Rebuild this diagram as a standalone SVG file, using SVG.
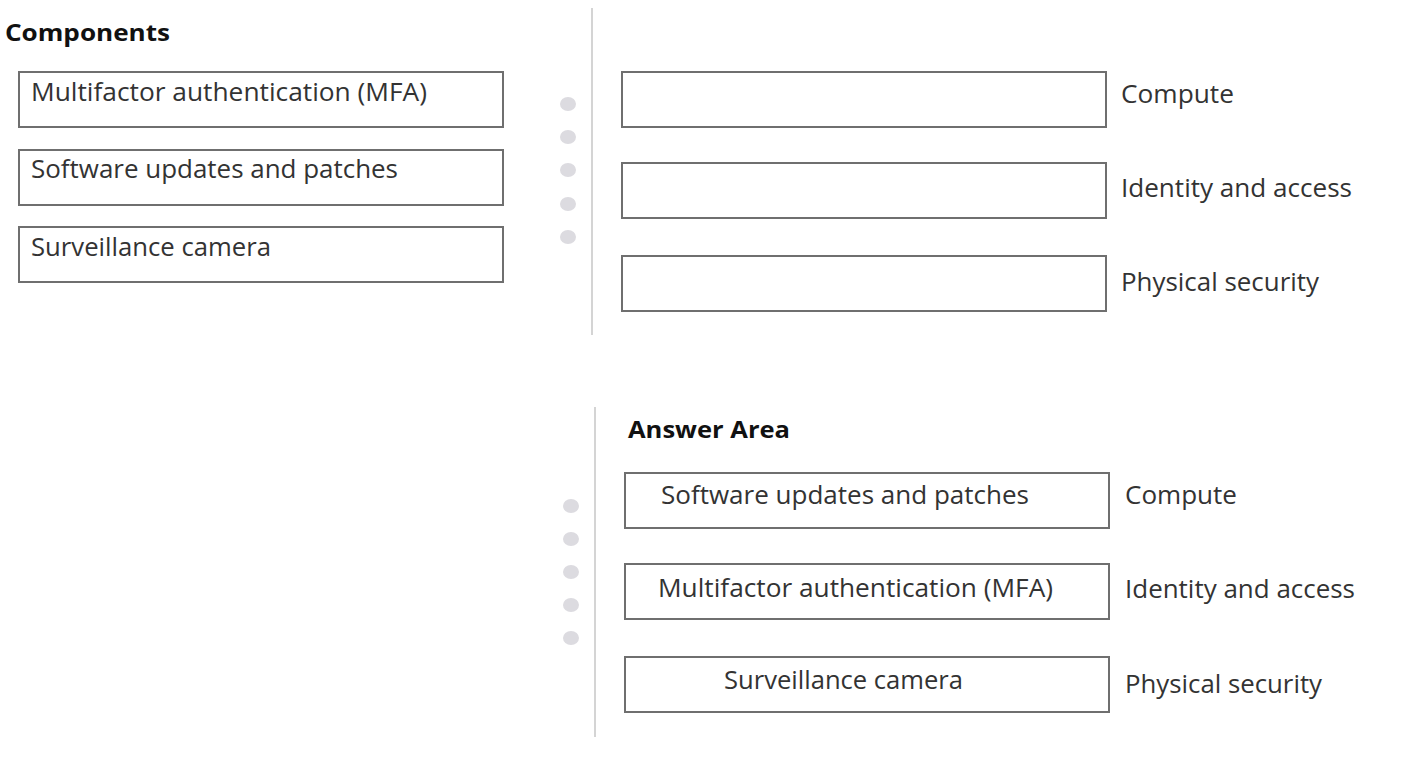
<svg xmlns="http://www.w3.org/2000/svg" width="1404" height="758" viewBox="0 0 1404 758">
<style>
.bg{fill:#ffffff}
.box{fill:#ffffff;stroke:#6f6f6f;stroke-width:2}
.t{font-family:"Open Sans","Noto Sans","Liberation Sans",sans-serif;font-size:25px;fill:#333333}
.h{font-family:"Open Sans","Noto Sans","Liberation Sans",sans-serif;font-size:24px;font-weight:bold;fill:#111111}
.sep{stroke:#d4d4d4;stroke-width:2}
.dot{fill:#dcdbe0}
</style>
<rect class="bg" x="0" y="0" width="1404" height="758"/>
<g id="separators">
<line class="sep" x1="592" y1="8" x2="592" y2="335"/>
<line class="sep" x1="595" y1="407" x2="595" y2="737"/>
</g>
<g id="dots-top">
<ellipse class="dot" cx="568" cy="104" rx="8" ry="7"/>
<ellipse class="dot" cx="568" cy="137" rx="8" ry="7"/>
<ellipse class="dot" cx="568" cy="170" rx="8" ry="7"/>
<ellipse class="dot" cx="568" cy="204" rx="8" ry="7"/>
<ellipse class="dot" cx="568" cy="237" rx="8" ry="7"/>
</g>
<g id="dots-bottom">
<ellipse class="dot" cx="571" cy="506" rx="8" ry="7"/>
<ellipse class="dot" cx="571" cy="539" rx="8" ry="7"/>
<ellipse class="dot" cx="571" cy="572" rx="8" ry="7"/>
<ellipse class="dot" cx="571" cy="605" rx="8" ry="7"/>
<ellipse class="dot" cx="571" cy="638" rx="8" ry="7"/>
</g>
<g id="components-title"><text class="h" x="5" y="41" textLength="165" lengthAdjust="spacingAndGlyphs">Components</text></g>
<g id="comp-mfa">
<rect class="box" x="19" y="72" width="484" height="55"/>
<text class="t" x="31" y="101" textLength="396" lengthAdjust="spacingAndGlyphs">Multifactor authentication (MFA)</text>
</g>
<g id="comp-software">
<rect class="box" x="19" y="150" width="484" height="55"/>
<text class="t" x="31" y="178" textLength="367" lengthAdjust="spacingAndGlyphs">Software updates and patches</text>
</g>
<g id="comp-camera">
<rect class="box" x="19" y="227" width="484" height="55"/>
<text class="t" x="31" y="256" textLength="240" lengthAdjust="spacingAndGlyphs">Surveillance camera</text>
</g>
<g id="slot-compute">
<rect class="box" x="622" y="72" width="484" height="55"/>
<text class="t" x="1121" y="103" textLength="113" lengthAdjust="spacingAndGlyphs">Compute</text>
</g>
<g id="slot-identity">
<rect class="box" x="622" y="163" width="484" height="55"/>
<text class="t" x="1121" y="197" textLength="231" lengthAdjust="spacingAndGlyphs">Identity and access</text>
</g>
<g id="slot-physical">
<rect class="box" x="622" y="256" width="484" height="55"/>
<text class="t" x="1121" y="291" textLength="198" lengthAdjust="spacingAndGlyphs">Physical security</text>
</g>
<g id="answer-title"><text class="h" x="628" y="438" textLength="162" lengthAdjust="spacingAndGlyphs">Answer Area</text></g>
<g id="answer-compute">
<rect class="box" x="625" y="473" width="484" height="55"/>
<text class="t" x="661" y="504" textLength="368" lengthAdjust="spacingAndGlyphs">Software updates and patches</text>
<text class="t" x="1125" y="504" textLength="112" lengthAdjust="spacingAndGlyphs">Compute</text>
</g>
<g id="answer-identity">
<rect class="box" x="625" y="564" width="484" height="55"/>
<text class="t" x="658" y="597" textLength="395" lengthAdjust="spacingAndGlyphs">Multifactor authentication (MFA)</text>
<text class="t" x="1125" y="598" textLength="230" lengthAdjust="spacingAndGlyphs">Identity and access</text>
</g>
<g id="answer-physical">
<rect class="box" x="625" y="657" width="484" height="55"/>
<text class="t" x="724" y="689" textLength="239" lengthAdjust="spacingAndGlyphs">Surveillance camera</text>
<text class="t" x="1125" y="693" textLength="197" lengthAdjust="spacingAndGlyphs">Physical security</text>
</g>
</svg>
